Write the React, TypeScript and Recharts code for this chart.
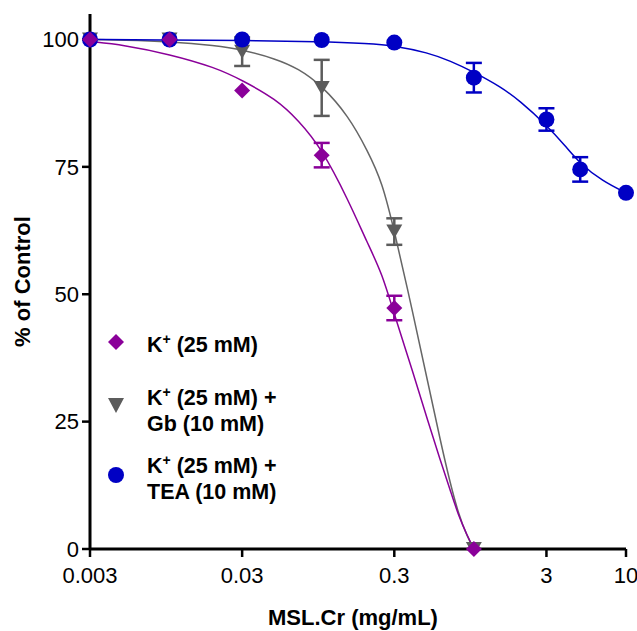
import { ComposedChart, ErrorBar, Legend, Line, Scatter, XAxis, YAxis } from 'recharts'

// concentration-response, MSL.Cr (mg/mL) vs % of control

const xTicks = [0.003, 0.03, 0.3, 3, 10]
const yTicks = [0, 25, 50, 75, 100]

const PURPLE = '#8a0099'
const GRAY = '#5c5c5c'
const BLUE = '#0000c4'
const FONT = '"Liberation Sans", Arial, sans-serif'

// measured points (mean, SEM)
const kDose = [0.003, 0.01, 0.03, 0.1, 0.3, 1]
const kMean = [100, 100, 90, 77.3, 47.3, 0]
const kSem = [0, 0, 0, 2.4, 2.4, 0]

const gbDose = [0.003, 0.01, 0.03, 0.1, 0.3, 1]
const gbMean = [100, 100, 97.6, 90.5, 62.3, 0]
const gbSem = [0, 0, 2.8, 5.5, 2.6, 0]

const teaDose = [0.003, 0.01, 0.03, 0.1, 0.3, 1, 3, 5, 10]
const teaMean = [100, 100, 100, 99.9, 99.4, 92.5, 84.3, 74.5, 69.9]
const teaSem = [0, 0, 0, 0, 0, 2.9, 2.2, 2.4, 0]

// fitted curves
const kFitX = [0.003, 0.005, 0.01, 0.02, 0.03, 0.05, 0.07, 0.1, 0.15, 0.2, 0.25, 0.3, 0.4, 0.5, 0.6, 0.7, 0.8, 0.9, 1]
const kFitY = [99.6, 98.9, 97.1, 94.5, 92, 88.3, 84.2, 78.6, 68.4, 60, 54, 46, 34.5, 25, 17.5, 11.5, 6.2, 2.8, 0]

const gbFitX = [0.003, 0.005, 0.01, 0.02, 0.03, 0.05, 0.07, 0.1, 0.15, 0.2, 0.25, 0.3, 0.4, 0.5, 0.6, 0.7, 0.8, 0.9, 1]
const gbFitY = [100, 99.9, 99.6, 98.8, 98, 96.2, 94.3, 91, 85, 78.2, 72, 62.5, 46, 32.5, 21.5, 12.8, 6.5, 2.6, 0]

const teaFitX = [0.003, 0.01, 0.03, 0.1, 0.2, 0.3, 0.5, 0.7, 1, 1.5, 2, 3, 4, 5, 7, 10]
const teaFitY = [100, 99.9, 99.8, 99.6, 99.2, 98.8, 97.4, 95.8, 93.6, 90.7, 88, 83.2, 79.1, 75.6, 72.2, 69.9]

const zip = (xs: number[], ys: number[], es?: number[]) =>
  xs.map((x, i) => ({ x, y: ys[i], err: es && es[i] ? es[i] : undefined }))

const kData = zip(kDose, kMean, kSem)
const gbData = zip(gbDose, gbMean, gbSem)
const teaData = zip(teaDose, teaMean, teaSem)
const kFit = zip(kFitX, kFitY)
const gbFit = zip(gbFitX, gbFitY)
const teaFit = zip(teaFitX, teaFitY)

const Diamond = (p: any) => (
  <path d={`M${p.cx},${p.cy - 8}L${p.cx + 8},${p.cy}L${p.cx},${p.cy + 8}L${p.cx - 8},${p.cy}Z`} fill={PURPLE} />
)
const TriangleDown = (p: any) => (
  <path d={`M${p.cx - 8},${p.cy - 7}L${p.cx + 8},${p.cy - 7}L${p.cx},${p.cy + 7}Z`} fill={GRAY} />
)
const Dot = (p: any) => <circle cx={p.cx} cy={p.cy} r={8} fill={BLUE} />

const legendText = { fontFamily: FONT, fontWeight: 'bold', fontSize: 21.5, fill: '#000' } as const

function KPlus() {
  return (
    <>
      K<tspan fontSize={14} dy={-8}>+</tspan>
      <tspan dy={8}> (25 mM)</tspan>
    </>
  )
}

function LegendBox() {
  return (
    <svg width={240} height={200} style={{ overflow: 'visible', display: 'block' }}>
      <path d="M18,26L26,34L18,42L10,34Z" fill={PURPLE} />
      <text x={49} y={44} {...legendText}>
        <KPlus />
      </text>
      <path d="M10,90L26,90L18,105Z" fill={GRAY} />
      <text x={49} y={97} {...legendText}>
        <KPlus /> +
      </text>
      <text x={49} y={123} {...legendText}>Gb (10 mM)</text>
      <circle cx={18} cy={167} r={8} fill={BLUE} />
      <text x={49} y={165} {...legendText}>
        <KPlus /> +
      </text>
      <text x={49} y={191} {...legendText}>TEA (10 mM)</text>
    </svg>
  )
}

const axisLine = { stroke: '#000', strokeWidth: 3 }
const tickLine = { stroke: '#000', strokeWidth: 2.5 }
const tick = { fill: '#000', fontSize: 22, fontFamily: FONT }
const labelStyle = { fontWeight: 'bold', fontSize: 22, fill: '#000', fontFamily: FONT }

export default function App() {
  return (
    <div style={{ padding: 8, width: 629, height: 623 }}>
      <style>{'body{margin:0}'}</style>
      <ComposedChart width={629} height={623} margin={{ top: 6, right: 11, left: 0, bottom: 0 }} style={{ fontFamily: FONT }}>
        <XAxis
          dataKey="x"
          type="number"
          scale="log"
          domain={[0.003, 10]}
          ticks={xTicks}
          interval={0}
          height={82}
          axisLine={axisLine}
          tickLine={tickLine}
          tickSize={8}
          tickMargin={10}
          tick={tick}
          label={{ value: 'MSL.Cr (mg/mL)', position: 'insideBottom', offset: 6, dx: -5, style: labelStyle }}
        />
        <YAxis
          dataKey="y"
          type="number"
          domain={[0, 105]}
          ticks={yTicks}
          interval={0}
          width={82}
          axisLine={axisLine}
          tickLine={tickLine}
          tickSize={8}
          tickMargin={3}
          tick={tick}
          label={{
            value: '% of Control',
            angle: -90,
            position: 'insideLeft',
            offset: 14,
            style: { ...labelStyle, textAnchor: 'middle' },
          }}
        />
        <Legend
          layout="vertical"
          align="center"
          verticalAlign="middle"
          content={() => <LegendBox />}
          wrapperStyle={{ left: 90, top: 300, width: 240, height: 200 }}
        />
        <Line data={gbFit} dataKey="y" type="basis" stroke="#666" strokeWidth={1.5} dot={false} isAnimationActive={false} />
        <Line data={teaFit} dataKey="y" type="basis" stroke={BLUE} strokeWidth={1.5} dot={false} isAnimationActive={false} />
        <Line data={kFit} dataKey="y" type="basis" stroke={PURPLE} strokeWidth={1.5} dot={false} isAnimationActive={false} />
        <Scatter data={gbData} dataKey="y" shape={TriangleDown} isAnimationActive={false}>
          <ErrorBar dataKey="err" direction="y" width={8} strokeWidth={2.5} stroke={GRAY} />
        </Scatter>
        <Scatter data={teaData} dataKey="y" shape={Dot} isAnimationActive={false}>
          <ErrorBar dataKey="err" direction="y" width={8} strokeWidth={2.5} stroke={BLUE} />
        </Scatter>
        <Scatter data={kData} dataKey="y" shape={Diamond} isAnimationActive={false}>
          <ErrorBar dataKey="err" direction="y" width={8} strokeWidth={2.5} stroke={PURPLE} />
        </Scatter>
      </ComposedChart>
    </div>
  )
}
